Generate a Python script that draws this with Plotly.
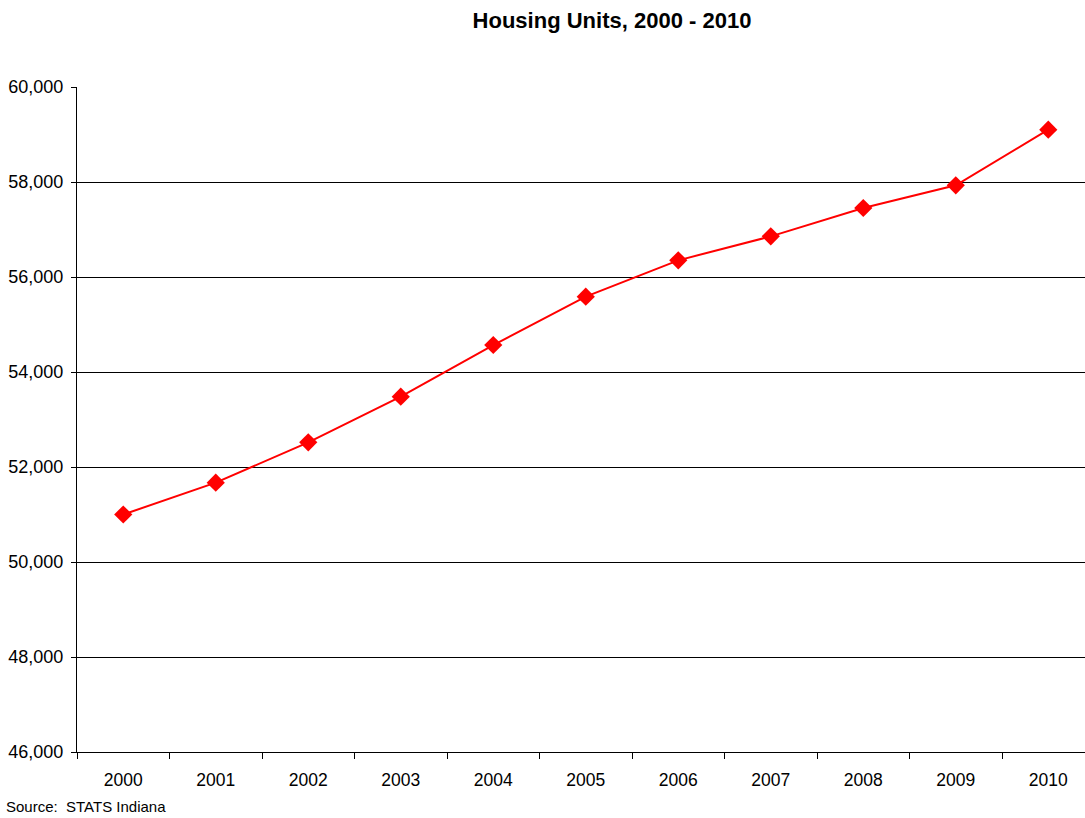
import plotly.graph_objects as go

years = ["2000", "2001", "2002", "2003", "2004", "2005", "2006", "2007", "2008", "2009", "2010"]
housing_units = [51000, 51670, 52519, 53480, 54568, 55586, 56351, 56856, 57453, 57930, 59102]
y_ticks = [46000, 48000, 50000, 52000, 54000, 56000, 58000, 60000]

W, H = 1085, 818
ML, MT, MB, MR = 77, 87, 66, 0

fig = go.Figure()
fig.add_trace(go.Scatter(
    x=years, y=housing_units, mode="lines+markers",
    line=dict(color="#ff0000", width=2),
    marker=dict(symbol="diamond", size=14, color="#ff0000"),
    showlegend=False,
))

font = "Liberation Sans, Arial, sans-serif"
fig.update_layout(
    width=W, height=H,
    margin=dict(l=ML, r=MR, t=MT, b=MB, pad=0),
    paper_bgcolor="white", plot_bgcolor="white",
    font=dict(family=font, size=17, color="black"),
    title=dict(text="<b>Housing Units, 2000 - 2010</b>", x=612 / W, xanchor="center",
               y=1 - 20 / H, yanchor="middle", yref="container",
               font=dict(family=font, size=22, color="black")),
)
fig.update_xaxes(
    type="category", range=[-0.5, 10.397],
    showgrid=False, showline=True, linecolor="black", linewidth=1,
    ticks="outside", tickson="boundaries", ticklen=6, tickcolor="black",
    ticklabelstandoff=12, tickfont=dict(size=17.5),
)
fig.update_yaxes(
    range=[46000, 60000], tickvals=y_ticks, tickformat=",d",
    showgrid=True, gridcolor="black", gridwidth=1,
    showline=True, linecolor="black", linewidth=1,
    ticks="outside", ticklen=5, tickcolor="black",
    ticklabelstandoff=4, zeroline=False, tickfont=dict(size=18),
)
plot_h = H - MT - MB
plot_w = W - ML - MR
fig.add_annotation(
    text="Source:&nbsp; STATS Indiana", xref="paper", yref="paper",
    x=(4 - ML) / plot_w, y=(H - MB - 806) / plot_h,
    xanchor="left", yanchor="middle", showarrow=False,
    font=dict(family=font, size=15, color="black"),
)
fig.write_html("out.html", config={"displayModeBar": False},
               post_script="document.body.style.margin='0';")
